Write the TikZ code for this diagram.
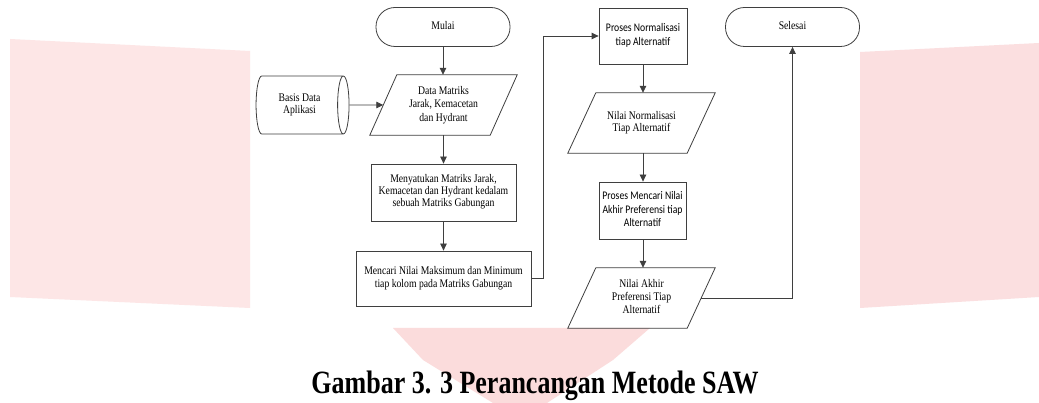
\documentclass[tikz,border=0pt]{standalone}
\usepackage{graphicx}
\usepackage{fontspec}
\setmainfont{Liberation Serif}
\newfontfamily\calib{Carlito}
\usetikzlibrary{arrows.meta,shapes.geometric}
\definecolor{pinkL}{HTML}{FDE6E6}
\definecolor{pinkR}{HTML}{FBDFE0}
\definecolor{pinkT}{HTML}{FBDCDC}
\definecolor{ln}{HTML}{3F3F3F}
\newcommand\ctext[2]{\scalebox{1}[1.2]{\fontsize{9.7}{#1}\selectfont\begin{tabular}{@{}c@{}}#2\end{tabular}}}
\newcommand\cstext[2]{\scalebox{1}[1.2]{\calib\fontsize{9.7}{#1}\selectfont\begin{tabular}{@{}c@{}}#2\end{tabular}}}
\tikzset{
  proc/.style={draw=ln, line width=0.8pt, fill=white, align=center, inner sep=0pt},
  term/.style={draw=ln, line width=0.8pt, fill=white, rounded corners=19pt, align=center, inner sep=0pt, minimum width=134pt, minimum height=39pt},
  io/.style={align=center, inner sep=0pt, minimum width=147pt, minimum height=60pt},
  iodraw/.style={draw=ln, line width=0.8pt},
  arr/.style={draw=ln, line width=0.8pt, -{Triangle[length=7pt,width=6.5pt]}},
  line/.style={draw=ln, line width=0.8pt}
}
\begin{document}
\begin{tikzpicture}[x=1pt,y=-1pt]
\useasboundingbox (0,0) rectangle (1039,403);
\fill[white] (0,0) rectangle (1039,403);
% watermark
\fill[pinkL] (10,39) -- (250,51) -- (250,308) -- (10,297) -- cycle;
\fill[pinkR] (860,52) -- (1039,43) -- (1039,297) -- (860,308) -- cycle;
\fill[pinkT] (393,328) -- (650,328) -- (613,360) -- (547,403) -- (493,403) -- (423,360) -- cycle;

% left column
\node[term] (mulai) at (443,27) {\ctext{10}{Mulai}};
\node[io] (dm) at (443.5,105) {\ctext{11.2}{Data Matriks\\Jarak, Kemacetan\\dan Hydrant}};
\draw[iodraw] ([xshift=27pt]dm.north west) -- (dm.north east) -- ([xshift=-27pt]dm.south east) -- (dm.south west) -- cycle;
\node[cylinder, draw=ln, line width=0.8pt, minimum width=58pt, minimum height=93pt, aspect=0.5, inner sep=0pt] (db) at (299.5,105) {\ctext{9.5}{Basis Data\\Aplikasi}};
\node[proc, minimum width=145pt, minimum height=57pt] (my) at (443.5,192.5) {\ctext{10}{Menyatukan Matriks Jarak,\\Kemacetan dan Hydrant kedalam\\sebuah Matriks Gabungan}};
\node[proc, minimum width=175pt, minimum height=55pt] (mc) at (443.5,278.5) {\ctext{10.5}{Mencari Nilai Maksimum dan Minimum\\tiap kolom pada Matriks Gabungan}};

% right column
\node[proc, minimum width=88pt, minimum height=56pt] (pn) at (643,36) {\cstext{11.5}{Proses Normalisasi\\tiap Alternatif}};
\node[io] (nn) at (641.5,123) {\ctext{10.5}{Nilai Normalisasi\\Tiap Alternatif}};
\draw[iodraw] ([xshift=28pt]nn.north west) -- (nn.north east) -- ([xshift=-28pt]nn.south east) -- (nn.south west) -- cycle;
\node[proc, minimum width=87pt, minimum height=57pt] (pm) at (642.5,210.5) {\cstext{11.2}{Proses Mencari Nilai\\Akhir Preferensi tiap\\Alternatif}};
\node[io] (na) at (641.5,298) {\ctext{10.5}{Nilai Akhir\\Preferensi Tiap\\Alternatif}};
\draw[iodraw] ([xshift=28pt]na.north west) -- (na.north east) -- ([xshift=-28pt]na.south east) -- (na.south west) -- cycle;
\node[term] (se) at (792.5,27) {\ctext{10}{Selesai}};

% connectors
\draw[arr] (mulai.south) -- (mulai.south |- dm.north);
\draw[arr] (db.east) -- ([xshift=13.5pt]dm.west);
\draw[arr] (dm.south) -- (dm.south |- my.north);
\draw[arr] (my.south) -- (my.south |- mc.north);
\draw[arr] (mc.east) -- ++(12pt,0) |- (pn.west);
\draw[arr] (pn.south) -- (pn.south |- nn.north);
\draw[arr] (pn.south |- nn.south) -- (pn.south |- pm.north);
\draw[arr] (pn.south |- pm.south) -- (pn.south |- na.north);
\draw[arr] ([xshift=-14pt]na.east) -| (se.south);

% caption
\node[anchor=base] (cap) at (535,393) {\scalebox{1}[1.25]{\fontsize{26}{30}\selectfont\bfseries Gambar 3. 3 Perancangan Metode SAW}};
\end{tikzpicture}
\end{document}
